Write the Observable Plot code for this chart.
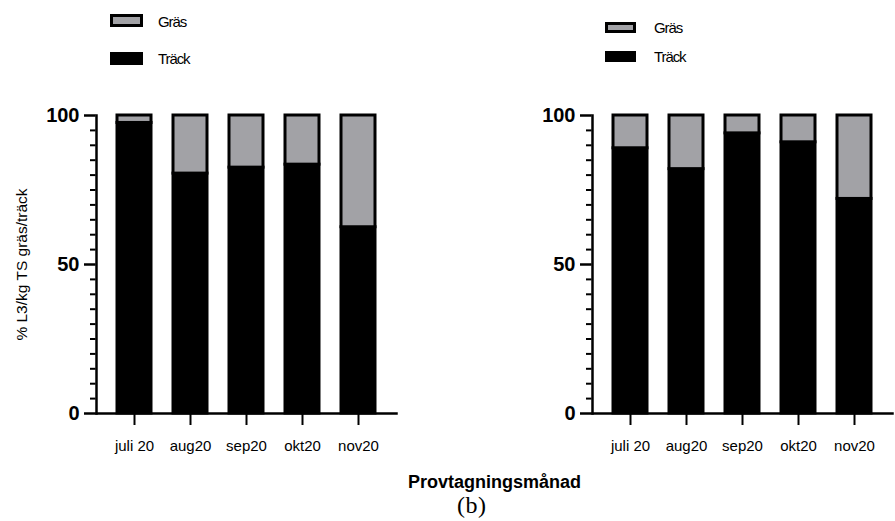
<!DOCTYPE html>
<html>
<head>
<meta charset="utf-8">
<script src="https://cdn.jsdelivr.net/npm/d3@7"></script>
<script src="https://cdn.jsdelivr.net/npm/@observablehq/plot@0.6"></script>
<style>
  html, body { margin: 0; padding: 0; background: #fff; }
  #wrap { position: relative; width: 895px; height: 521px; overflow: hidden; font-family: "Liberation Sans", Arial, sans-serif; }
  #wrap svg { position: absolute; left: 0; top: 0; overflow: visible; max-width: none !important; }
  #wrap svg [aria-label="x-axis label"] text { font-size: 18px; font-weight: bold; }
  #wrap svg [aria-label="y-axis label"] text { font-size: 15.5px; font-weight: normal; }
  .leg { position: absolute; font-size: 15px; letter-spacing: -1.1px; color: #000; line-height: 15px; }
  .sw { position: absolute; box-sizing: border-box; border: 3px solid #000; }
  #cap { position: absolute; left: 457px; top: 493px; font-family: "Liberation Serif", "Times New Roman", serif; font-size: 24px; line-height: 24px; letter-spacing: 0.5px; }
</style>
</head>
<body>
<div id="wrap"></div>
<script>
// ---- data ----
const panels = ["panel 1", "panel 2"];
const months = ["juli 20", "aug20", "sep20", "okt20", "nov20"];
const series = ["Gräs", "Träck"];
const seriesColors = ["#a2a2a6", "#000000"];
// panel 1 (left)
const trackLeft = [97.5, 80.5, 82.5, 83.5, 62.5];
const grasLeft  = [2.5, 19.5, 17.5, 16.5, 37.5];
// panel 2 (right)
const trackRight = [89, 82, 94, 91, 72];
const grasRight  = [11, 18, 6, 9, 28];
const yMajorTicks = [0, 50, 100];
const yMinorTicks = [5, 10, 15, 20, 25, 30, 35, 40, 45, 55, 60, 65, 70, 75, 80, 85, 90, 95];
const xTitle = "Provtagningsmånad";
const yTitle = "% L3/kg TS gräs/träck";
const caption = "(b)";

function rows(panel, track, gras) {
  const out = [];
  months.forEach((m, i) => out.push({panel, month: m, series: "Träck", value: track[i]}));
  months.forEach((m, i) => out.push({panel, month: m, series: "Gräs", value: gras[i]}));
  return out;
}
const data = rows(panels[0], trackLeft, grasLeft).concat(rows(panels[1], trackRight, grasRight));

// layout
const W = 895, H = 521, mL = 96, mR = 2, mT = 115, mB = 108;
const fxPad = 0.395;
const fxStep = (W - mL - mR) / (2 - fxPad);
const facetW = fxStep * (1 - fxPad);
const facetH = H - mT - mB;

const svg = Plot.plot({
  width: W,
  height: H,
  marginLeft: mL,
  marginRight: mR,
  marginTop: mT,
  marginBottom: mB,
  style: {fontFamily: "'Liberation Sans', Arial, sans-serif", color: "#000", background: "transparent", overflow: "visible"},
  fx: {domain: panels, paddingInner: fxPad, paddingOuter: 0, axis: null, label: null},
  x: {domain: months, paddingInner: 0.4, paddingOuter: 0.36, axis: null},
  y: {domain: [0, 100], axis: null},
  color: {domain: series, range: seriesColors},
  marks: [
    Plot.barY(data, {fx: "panel", x: "month", y: "value", fill: "series", stroke: "#000", strokeWidth: 3}),
    // tick lines
    Plot.ruleY(yMinorTicks, {y: d => d, insetLeft: -6, insetRight: facetW, strokeWidth: 2}),
    Plot.ruleY(yMajorTicks, {y: d => d, insetLeft: -12, insetRight: facetW, strokeWidth: 2.5}),
    Plot.ruleX(months, {x: d => d, insetTop: facetH, insetBottom: -12, strokeWidth: 2}),
    // axis lines
    Plot.frame({anchor: "left", strokeWidth: 2.5}),
    Plot.frame({anchor: "bottom", strokeWidth: 2.5}),
    // tick labels and titles
    Plot.axisY({ticks: yMajorTicks, tickSize: 0, tickPadding: 17, fontSize: 20, fontWeight: "bold", facetAnchor: null,
                label: yTitle, labelAnchor: "center", labelArrow: "none", labelOffset: 81}),
    Plot.axisX({tickSize: 0, tickPadding: 27, fontSize: 15, facetAnchor: null,
                label: xTitle, labelAnchor: "center", labelArrow: "none", labelOffset: 74})
  ]
});

const wrap = document.getElementById("wrap");
wrap.appendChild(svg);

const cap = document.createElement("div");
cap.id = "cap";
cap.textContent = caption;
wrap.appendChild(cap);

// legends
function legend(left, tops, sw, textLeft, textTops) {
  series.forEach((s, i) => {
    const b = document.createElement("div");
    b.className = "sw";
    b.style.left = left + "px"; b.style.top = tops[i] + "px";
    b.style.width = sw[0] + "px"; b.style.height = sw[1] + "px";
    b.style.background = seriesColors[i];
    wrap.appendChild(b);
    const t = document.createElement("div");
    t.className = "leg";
    t.style.left = textLeft + "px"; t.style.top = textTops[i] + "px";
    t.textContent = s;
    wrap.appendChild(t);
  });
}
legend(110, [14, 52], [33, 13], 158, [14, 51]);
legend(605, [22, 51], [31, 11], 654, [20, 49]);
</script>
</body>
</html>
